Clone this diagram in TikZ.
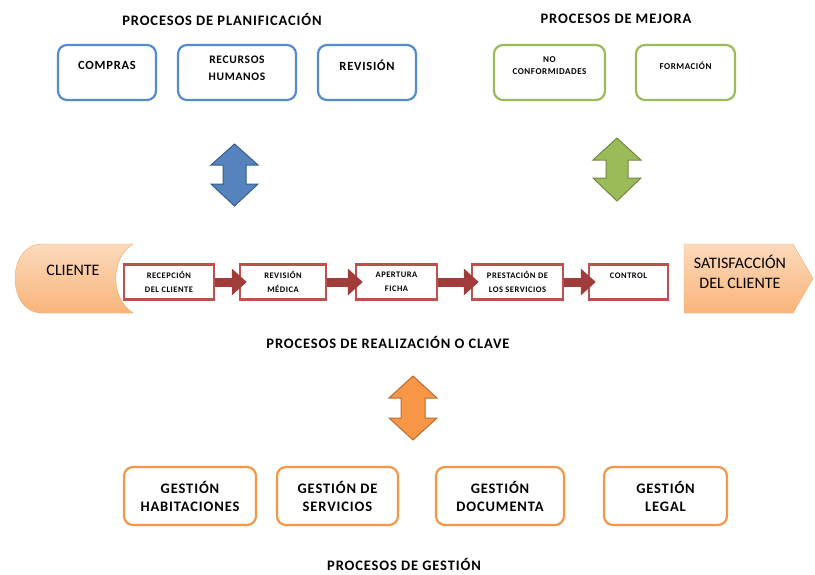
\documentclass[tikz,border=0pt]{standalone}
\usepackage{fontspec}
\setmainfont{Carlito}
\newfontfamily\widefont[LetterSpace=6]{Carlito}
\usepackage{tikz}
\usetikzlibrary{arrows.meta,positioning,calc}
\definecolor{planblue}{RGB}{85,138,206}
\definecolor{planbluedk}{RGB}{56,93,138}
\definecolor{mejgreen}{RGB}{155,187,89}
\definecolor{mejgreendk}{RGB}{113,137,63}
\definecolor{gesorange}{RGB}{247,150,70}
\definecolor{gesorangedk}{RGB}{182,109,49}
\definecolor{procred}{RGB}{192,80,77}
\definecolor{procreddk}{RGB}{160,60,58}
\definecolor{peachlight}{RGB}{252,218,188}
\definecolor{peachdark}{RGB}{249,180,122}
\definecolor{peachedge}{RGB}{240,170,110}

\begin{document}
\begin{tikzpicture}[
  x=1pt, y=-1pt,
  every node/.style={font=\widefont\bfseries\fontsize{12.5}{14}\selectfont, inner sep=0pt},
  heading/.style={font=\widefont\bfseries\fontsize{14.5}{18}\selectfont},
  planbox/.style={draw=planblue, line width=2.2pt, fill=white, rounded corners=9pt, minimum height=55pt},
  mejbox/.style={draw=mejgreen, line width=2.2pt, fill=white, rounded corners=9pt, minimum height=55pt},
  gesbox/.style={draw=gesorange, line width=2.2pt, fill=white, rounded corners=9pt, minimum height=58pt, align=center,
    font=\widefont\bfseries\fontsize{14.5}{18}\selectfont},
  procbox/.style={draw=procred, line width=2.4pt, fill=white, minimum height=35pt, align=center,
    font=\widefont\bfseries\fontsize{8.5}{13.5}\selectfont},
  boxtxt/.style={align=center},
  smalltxt/.style={align=center, font=\widefont\bfseries\fontsize{9}{12}\selectfont},
  endtxt/.style={align=center, font=\normalfont\fontsize{16}{20}\selectfont},
  flow/.style={line width=9pt, procreddk, -{Triangle[length=15pt 0 0, width=26pt 0 0]}, shorten >=-8pt},
  updown/.style={line width=1pt, line join=miter}
]
\useasboundingbox (0,0) rectangle (815,574);

% planificacion
\node[heading] (plantitle) at (222,19) {PROCESOS DE PLANIFICACIÓN};
\node[planbox, minimum width=98pt] (compras) at (107,72.5) {};
\node[planbox, minimum width=118pt] (rrhh) at (237,72.5) {};
\node[planbox, minimum width=98pt] (revision) at (367,72.5) {};
\node[boxtxt] (compras-txt) at (107,65) {COMPRAS};
\node[boxtxt, font=\widefont\bfseries\fontsize{11.5}{17}\selectfont] (rrhh-txt) at (237,68.5) {RECURSOS\\HUMANOS};
\node[boxtxt] (revision-txt) at (367,65) {REVISIÓN};

% mejora
\node[heading] (mejtitle) at (616,19) {PROCESOS DE MEJORA};
\node[mejbox, minimum width=111pt] (noconf) at (549.5,72.5) {};
\node[mejbox, minimum width=99pt] (formacion) at (685.5,72.5) {};
\node[smalltxt] (noconf-txt) at (549.5,66) {NO\\CONFORMIDADES};
\node[smalltxt] (formacion-txt) at (685.5,66) {FORMACIÓN};

% flechas dobles
\draw[updown, draw=planbluedk, fill=planblue!90!black!95] (234.5,144) -- (258,165) -- (246,165) -- (246,184) -- (258,184)
  -- (234.5,206) -- (211,184) -- (223,184) -- (223,165) -- (211,165) -- cycle;
\draw[updown, draw=mejgreendk, fill=mejgreen] (617,138) -- (641,160) -- (628,160) -- (628,178) -- (641,178)
  -- (617,201) -- (593,178) -- (606,178) -- (606,160) -- (593,160) -- cycle;
\draw[updown, draw=gesorangedk, fill=gesorange] (413,376) -- (437,398) -- (425,398) -- (425,418) -- (437,418)
  -- (413,440) -- (389,418) -- (401,418) -- (401,398) -- (389,398) -- cycle;

% realizacion
\draw[draw=peachedge, top color=peachlight, bottom color=peachdark] (133,244) -- (42,244)
  .. controls (6,244) and (6,313) .. (42,313) -- (133,313)
  .. controls (110,298) and (110,259) .. cycle;
\node[endtxt] (cliente) at (73,270) {CLIENTE};
\draw[draw=peachedge, top color=peachlight, bottom color=peachdark] (684,244) -- (793,244) -- (813,278.5)
  -- (793,313) -- (684,313) -- cycle;
\node[endtxt] (satisf) at (740,272) {SATISFACCIÓN\\DEL CLIENTE};

\node[procbox, minimum width=90pt] (recep) at (169,282) {RECEPCIÓN\\DEL CLIENTE};
\node[procbox, minimum width=86pt] (revmed) at (283,282) {REVISIÓN\\MÉDICA};
\node[procbox, minimum width=81pt] (apert) at (396.5,282) {APERTURA\\FICHA};
\node[procbox, minimum width=91pt] (prest) at (517.5,282) {PRESTACIÓN DE\\LOS SERVICIOS};
\node[procbox, minimum width=79pt, text depth=12pt] (control) at (628.5,282) {CONTROL};

\draw[flow] (recep) -- (revmed);
\draw[flow] (revmed) -- (apert);
\draw[flow] (apert) -- (prest);
\draw[flow] (prest) -- (control);

\node[heading] (realtitle) at (388,342) {PROCESOS DE REALIZACIÓN O CLAVE};

% gestion
\node[gesbox, minimum width=132pt] (habit) at (190,496) {GESTIÓN\\HABITACIONES};
\node[gesbox, minimum width=121pt] (servic) at (337.5,496) {GESTIÓN DE\\SERVICIOS};
\node[gesbox, minimum width=128pt] (docum) at (500,496) {GESTIÓN\\DOCUMENTA};
\node[gesbox, minimum width=123pt] (legal) at (665.5,496) {GESTIÓN\\LEGAL};
\node[heading] (gestitle) at (404,564) {PROCESOS DE GESTIÓN};
\end{tikzpicture}
\end{document}
